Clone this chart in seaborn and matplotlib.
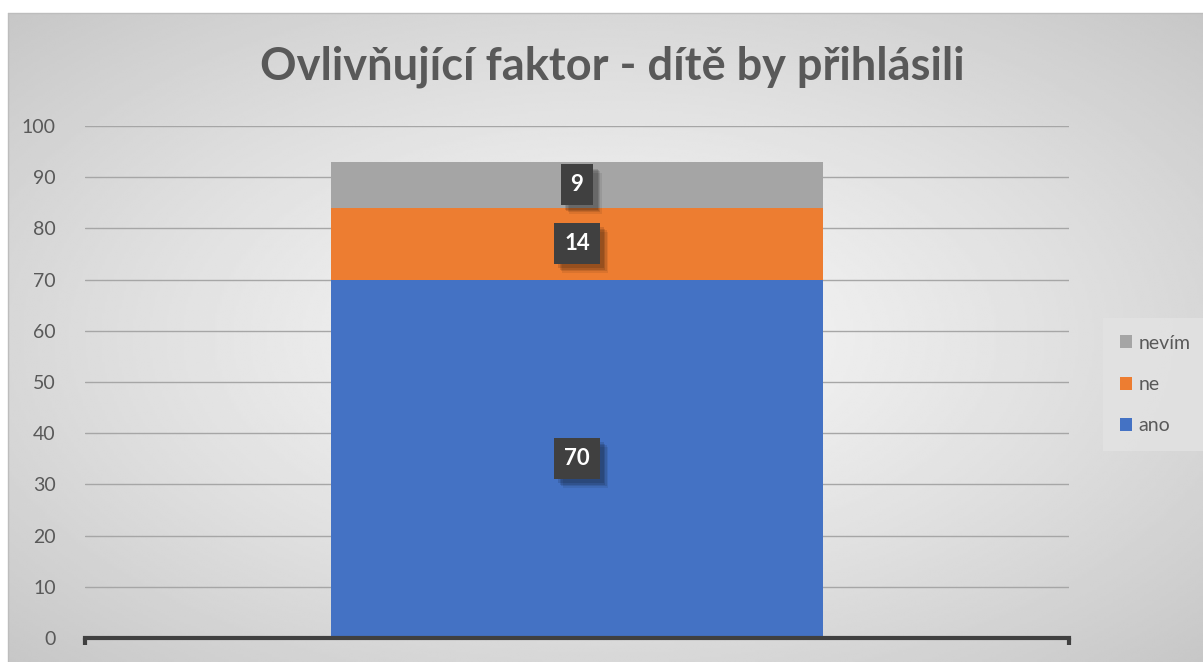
import numpy as np
import pandas as pd
import matplotlib
matplotlib.use("Agg")
import matplotlib.pyplot as plt
import matplotlib.patheffects as pe
import seaborn as sns

title = "Ovlivňující faktor - dítě by přihlásili"
category = [""]
series_names = ["ano", "ne", "nevím"]
series_values = [70, 14, 9]
series_colors = ["#4472c4", "#ed7d31", "#a5a5a5"]
y_ticks = [0, 10, 20, 30, 40, 50, 60, 70, 80, 90, 100]

sns.set_theme(style="white")
plt.rcParams["font.family"] = ["Lato", "DejaVu Sans"]

W, H = 1203, 662
fig = plt.figure(figsize=(W / 100, H / 100), dpi=100)
fig.patch.set_facecolor("white")

# radial gradient background of the chart area
bg = fig.add_axes([8 / W, 0, 1 - 8 / W, 1 - 13 / H])
yy, xx = np.mgrid[-1:1:300j, -1:1:500j]
r = np.sqrt(xx ** 2 + yy ** 2) / np.sqrt(2)
bg.imshow(0.97 - 0.19 * r ** 1.2, cmap="gray", vmin=0, vmax=1,
          aspect="auto", extent=[0, 1, 0, 1], interpolation="bilinear")
bg.set_axis_off()
bg.plot([0, 0], [0, 1], color="#bdbdbd", lw=1, transform=bg.transAxes, clip_on=False)
bg.plot([0, 1], [1, 1], color="#bdbdbd", lw=1, transform=bg.transAxes, clip_on=False)

ax = fig.add_axes([85 / W, 24 / H, (1069 - 85) / W, (638 - 126) / H])
ax.patch.set_alpha(0)

df = pd.DataFrame({"cat": category * len(series_names),
                   "series": series_names,
                   "value": series_values})

# soft drop shadow for the label boxes
shadow = [pe.SimplePatchShadow(offset=(o, -o), shadow_rgbFace="black", alpha=a)
          for o, a in [(6, 0.08), (5, 0.1), (4, 0.12), (3, 0.12)]]

bottom = 0
for name, val, col in zip(series_names, series_values, series_colors):
    sub = df[df["series"] == name]
    sns.barplot(data=sub, x="cat", y="value", color=col, width=0.5,
                bottom=bottom, ax=ax, saturation=1, label=name, edgecolor="none")
    t = ax.text(0, bottom + val / 2, str(val), ha="center", va="center",
                color="white", fontsize=16, fontweight="bold",
                bbox=dict(boxstyle="square,pad=0.45", fc="#404040", ec="none"))
    t.get_bbox_patch().set_path_effects(shadow + [pe.Normal()])
    bottom += val

ax.set_xlim(-0.5, 0.5)
ax.set_ylim(0, 100)
ax.set_yticks(y_ticks)
ax.set_xlabel("")
ax.set_ylabel("")
ax.set_xticks([])
ax.yaxis.grid(True, color="#a6a6a6", lw=1)
ax.set_axisbelow(True)
for s in ["top", "right", "left"]:
    ax.spines[s].set_visible(False)
ax.spines["bottom"].set_color("#404040")
ax.spines["bottom"].set_linewidth(3)
ax.tick_params(axis="y", length=0, labelsize=14, labelcolor="#595959", pad=21)
# end tick marks on x axis
for xe in [-0.5, 0.5]:
    ax.plot([xe, xe], [0, -1.4], color="#404040", lw=3, clip_on=False,
            solid_capstyle="butt")

h, l = ax.get_legend_handles_labels()
leg = ax.legend(h[::-1], l[::-1], loc="center left", bbox_to_anchor=(1.025, 0.495),
                frameon=True, fontsize=14, handlelength=0.65, handleheight=0.65,
                labelspacing=1.25, handletextpad=0.3, borderpad=0.85,
                fancybox=False, labelcolor="#595959")
leg.get_frame().set_facecolor("#e3e3e3")
leg.get_frame().set_edgecolor("none")
leg.get_frame().set_alpha(0.8)

fig.text(612 / W, 1 - 67 / H, title, ha="center", va="center",
         fontsize=32.5, fontweight="bold", color="#595959")

fig.savefig("out.png", dpi=100)
